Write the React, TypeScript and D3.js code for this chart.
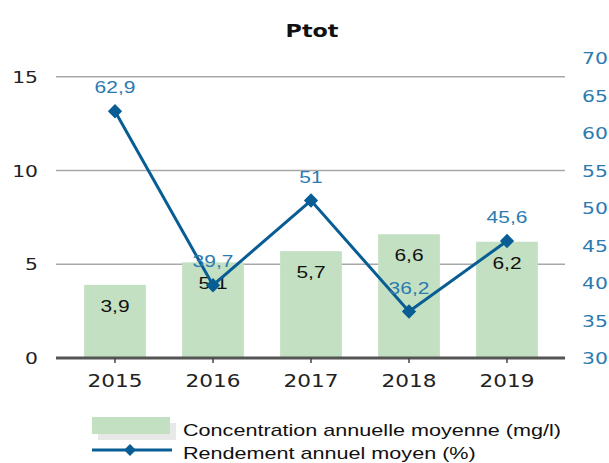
import React from "react";
import * as d3 from "d3";

const years = ["2015", "2016", "2017", "2018", "2019"];
const concentration = [3.9, 5.1, 5.7, 6.6, 6.2];
const concentrationLabels = ["3,9", "5,1", "5,7", "6,6", "6,2"];
const rendement = [62.9, 39.7, 51, 36.2, 45.6];
const rendementLabels = ["62,9", "39,7", "51", "36,2", "45,6"];
const leftTicks = [0, 5, 10, 15];
const rightTicks = [30, 35, 40, 45, 50, 55, 60, 65, 70];
const title = "Ptot";
const legendBar = "Concentration annuelle moyenne (mg/l)";
const legendLine = "Rendement annuel moyen (%)";

const W = 609;
const H = 463;
const SX = 1.27;
const BAR = "#c3e0c3";
const LINE = "#085d94";
const BLUE_TXT = "#2b7bb1";

function T({ x, y, children, anchor = "start", size = 16, fill = "#1a1a1a", family = "'Liberation Sans', Arial, sans-serif", weight = "normal" }: any) {
  return (
    <text
      transform={`translate(${x},${y}) scale(${SX},1)`}
      textAnchor={anchor}
      fontSize={size}
      fill={fill}
      fontFamily={family}
      fontWeight={weight}
    >
      {children}
    </text>
  );
}

export default function App() {
  const x = d3.scaleBand<string>().domain(years).range([66, 556]).padding(0);
  const yL = d3.scaleLinear().domain([0, 16]).range([358, 58]);
  const yR = d3.scaleLinear().domain([30, 70]).range([358, 58]);
  const bw = x.bandwidth() * 0.63;
  const cx = (y: string) => (x(y) as number) + x.bandwidth() / 2;
  const line = d3
    .line<number>()
    .x((_, i) => cx(years[i]))
    .y((d) => yR(d));
  const diamond = d3.symbol().type(d3.symbolDiamond2 || d3.symbolSquare).size(130)();
  const diamondSmall = d3.symbol().type(d3.symbolDiamond2 || d3.symbolSquare).size(90)();
  const dv = "'DejaVu Sans', Verdana, sans-serif";

  return (
    <svg width={W} height={H} style={{ position: "absolute", left: 0, top: 0 }}>
      <rect width={W} height={H} fill="#fff" />
      <T x={312} y={37} anchor="middle" size={17.5} weight="bold" family={dv} fill="#111">
        {title}
      </T>
      {leftTicks.filter((t) => t > 0).map((t) => (
        <line key={t} x1={56} x2={565} y1={yL(t)} y2={yL(t)} stroke="#a8a8a8" strokeWidth={1.5} />
      ))}
      {years.map((yr, i) => (
        <rect
          key={yr}
          x={cx(yr) - bw / 2}
          y={yL(concentration[i])}
          width={bw}
          height={yL(0) - yL(concentration[i])}
          fill={BAR}
        />
      ))}
      <line x1={56} x2={565} y1={yL(0)} y2={yL(0)} stroke="#555" strokeWidth={3} />
      {years.map((yr) => (
        <line key={yr} x1={cx(yr)} x2={cx(yr)} y1={yL(0)} y2={yL(0) + 5} stroke="#444" strokeWidth={1.5} />
      ))}
      {years.map((yr) => (
        <T key={yr} x={cx(yr)} y={387} anchor="middle" size={17} family={dv} fill="#222">
          {yr}
        </T>
      ))}
      {leftTicks.map((t) => (
        <T key={t} x={38} y={yL(t) + 6} anchor="end" size={16} family={dv} fill="#222">
          {t}
        </T>
      ))}
      {rightTicks.map((t) => (
        <T key={t} x={582} y={yR(t) + 6} anchor="start" size={16} family={dv} fill={BLUE_TXT}>
          {t}
        </T>
      ))}
      {years.map((yr, i) => (
        <T key={yr} x={cx(yr)} y={yL(concentration[i]) + 27} anchor="middle" size={16.5} fill="#111">
          {concentrationLabels[i]}
        </T>
      ))}
      <path d={line(rendement) || ""} fill="none" stroke={LINE} strokeWidth={3} />
      {years.map((yr, i) => (
        <path key={yr} d={diamond} transform={`translate(${cx(yr)},${yR(rendement[i])})`} fill={LINE} />
      ))}
      {years.map((yr, i) => (
        <T key={yr} x={cx(yr)} y={yR(rendement[i]) - 18} anchor="middle" size={16.5} fill={BLUE_TXT}>
          {rendementLabels[i]}
        </T>
      ))}
      <rect x={98} y={423} width={78} height={17} fill="#e8e8e8" />
      <rect x={92} y={417} width={78} height={17} fill={BAR} />
      <T x={183} y={436} size={17} fill="#111">
        {legendBar}
      </T>
      <line x1={92} x2={172} y1={450} y2={450} stroke={LINE} strokeWidth={3} />
      <path d={diamondSmall} transform={`translate(130,450)`} fill={LINE} />
      <T x={183} y={459} size={17} fill="#111">
        {legendLine}
      </T>
    </svg>
  );
}
